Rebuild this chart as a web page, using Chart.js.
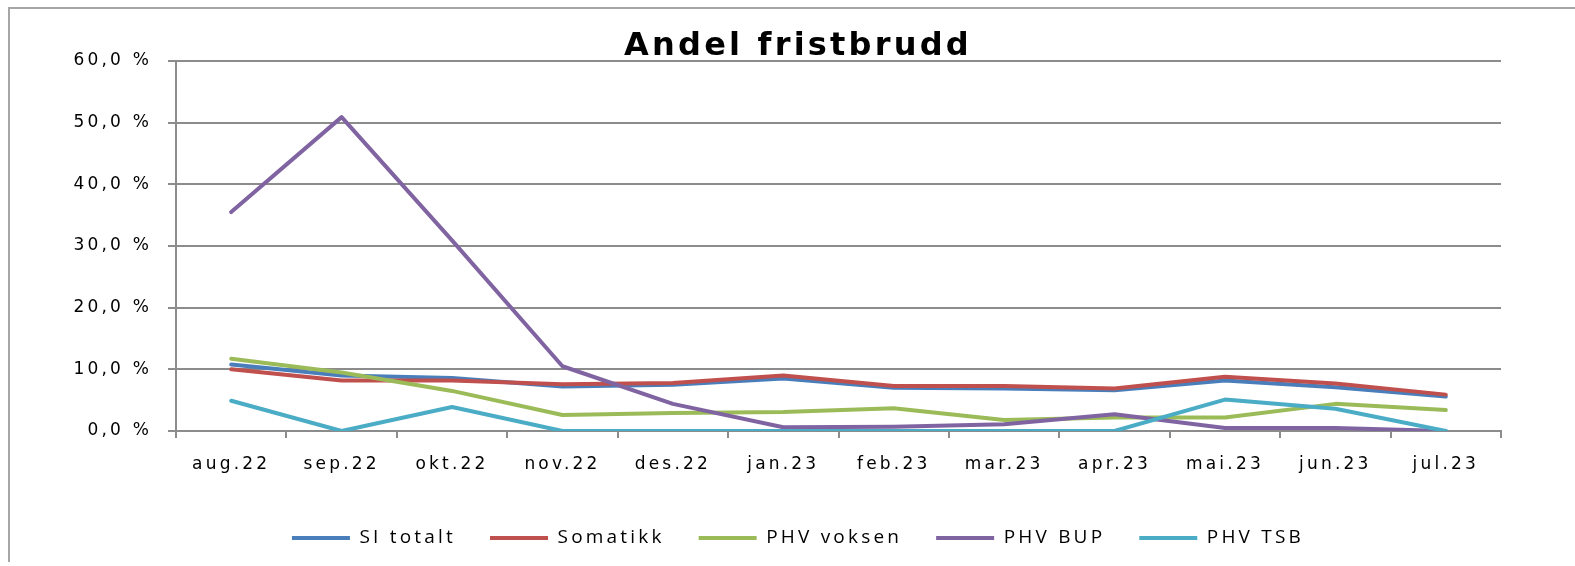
<!DOCTYPE html>
<html lang="no">
<head>
<meta charset="UTF-8">
<title>Andel fristbrudd</title>
<script src="https://cdn.jsdelivr.net/npm/chart.js"></script>
<style>
    body { margin: 0; background: #fff; }
    .wrap { position: relative; width: 1575px; height: 566px; overflow: hidden; }
    .frame {
        position: absolute; left: 8px; top: 7px; width: 1600px; height: 553px;
        border-left: 2px solid #a6a6a6; border-top: 2px solid #a6a6a6;
    }
    canvas { position: absolute; left: 0; top: 0; }
</style>
</head>
<body>
<div class="wrap">
    <div class="frame"></div>
    <canvas id="chart" width="1575" height="566"></canvas>
</div>
<script>
// months
const labels = ['aug.22', 'sep.22', 'okt.22', 'nov.22', 'des.22', 'jan.23',
                'feb.23', 'mar.23', 'apr.23', 'mai.23', 'jun.23', 'jul.23'];

// share of deadline breaches, percent
const siTotalt  = [10.8, 9.0, 8.6, 7.2, 7.5, 8.5, 7.0, 6.9, 6.6, 8.2, 7.1, 5.6];
const somatikk  = [10.0, 8.2, 8.2, 7.6, 7.8, 9.0, 7.3, 7.3, 6.9, 8.8, 7.7, 5.9];
const phvVoksen = [11.7, 9.5, 6.5, 2.6, 2.9, 3.1, 3.7, 1.8, 2.2, 2.2, 4.4, 3.4];
const phvBup    = [35.5, 50.9, 30.9, 10.5, 4.4, 0.6, 0.7, 1.1, 2.7, 0.5, 0.5, 0.0];
const phvTsb    = [4.9, 0.0, 3.9, 0.0, 0.0, 0.0, 0.0, 0.0, 0.0, 5.1, 3.6, 0.0];

const yTickLabels = ['0,0 %', '10,0 %', '20,0 %', '30,0 %', '40,0 %', '50,0 %', '60,0 %'];

const gridColor = '#8c8c8c';

function line(label, data, color, order) {
    return {
        label: label,
        data: data,
        borderColor: color,
        backgroundColor: color,
        borderWidth: 4,
        borderCapStyle: 'round',
        borderJoinStyle: 'round',
        pointRadius: 0,
        tension: 0,
        order: order // later series drawn on top, like the original
    };
}

// the original text is set wide, so give the canvas some letter spacing
const spacing = {
    id: 'spacing',
    beforeUpdate(chart) { chart.ctx.letterSpacing = '3.2px'; },
    beforeDraw(chart) { chart.ctx.letterSpacing = '3.2px'; },
    // title and legend are centred over the plot area, not the whole canvas
    afterLayout(chart) {
        chart.legend.left = 95;
        chart.titleBlock.left = 95;
    }
};

Chart.defaults.font.family = 'DejaVu Sans';
Chart.defaults.color = '#000';

new Chart(document.getElementById('chart'), {
    type: 'line',
    data: {
        labels: labels,
        datasets: [
            line('SI totalt', siTotalt, '#4a7ebb', 5),
            line('Somatikk', somatikk, '#c0504d', 4),
            line('PHV voksen', phvVoksen, '#9bbb59', 3),
            line('PHV BUP', phvBup, '#8064a2', 2),
            line('PHV TSB', phvTsb, '#4bacc6', 1)
        ]
    },
    options: {
        responsive: false,
        animation: false,
        layout: { padding: { left: 20, right: 74, top: 33, bottom: 8.5 } },
        plugins: {
            title: {
                display: true,
                text: 'Andel fristbrudd',
                font: { family: 'DejaVu Sans', size: 32, weight: 'bold', lineHeight: 0.875 },
                padding: { top: 0, bottom: 0 },
                color: '#000'
            },
            legend: {
                position: 'bottom',
                labels: {
                    usePointStyle: true,
                    pointStyle: 'line',
                    pointStyleWidth: 58,
                    padding: 34,
                    font: { family: 'Open Sans', size: 19 },
                    color: '#000',
                    sort: (a, b) => a.datasetIndex - b.datasetIndex
                }
            },
            tooltip: { enabled: false }
        },
        scales: {
            x: {
                offset: true,
                grid: { offset: true, drawOnChartArea: false, color: gridColor, lineWidth: 2, tickLength: 7 },
                border: { color: gridColor, width: 2 },
                ticks: { font: { size: 17 }, autoSkip: false, maxRotation: 0, padding: 16 },
                afterFit(scale) { scale.height = 63.5; }
            },
            y: {
                min: 0,
                max: 60,
                ticks: {
                    stepSize: 10,
                    font: { size: 17 },
                    padding: 16,
                    callback: (value, index) => yTickLabels[index]
                },
                grid: { color: gridColor, lineWidth: 2, tickLength: 8 },
                border: { color: gridColor, width: 2 },
                afterFit(scale) { scale.width = 156; }
            }
        }
    },
    plugins: [spacing]
});
</script>
</body>
</html>
